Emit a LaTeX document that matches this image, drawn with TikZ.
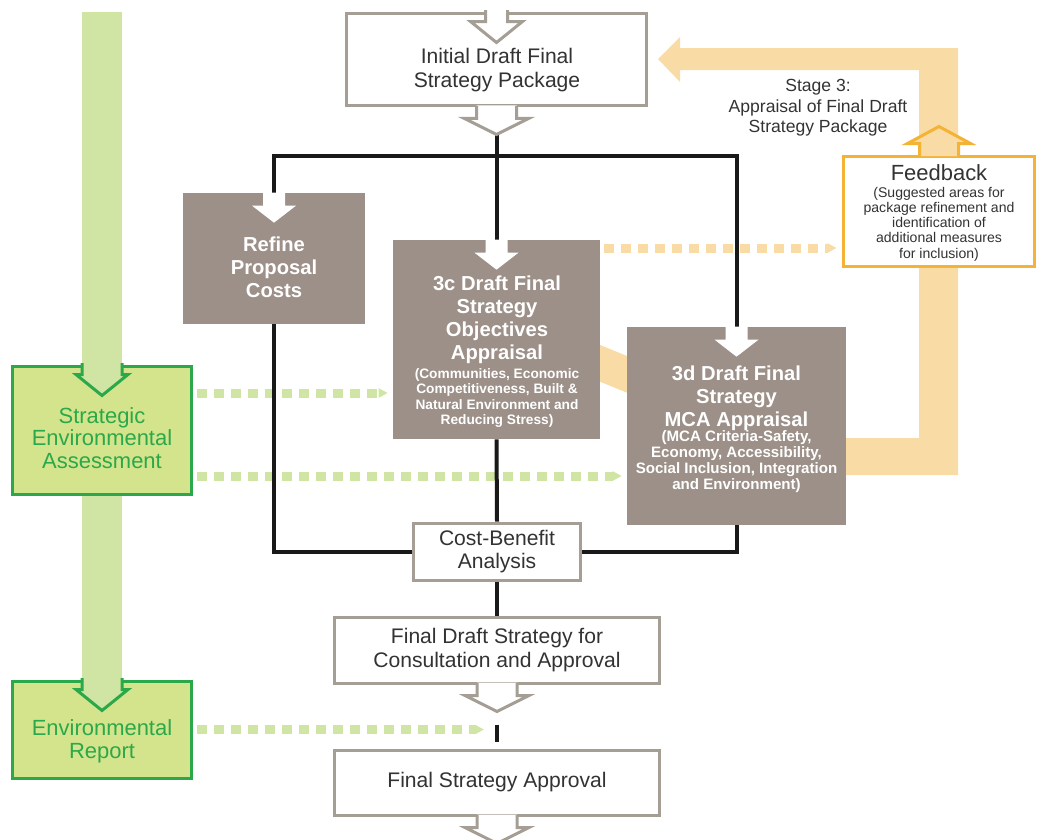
\documentclass[tikz,border=0pt]{standalone}
\usepackage{fontspec}
\setmainfont{Liberation Sans}
\usetikzlibrary{calc,arrows.meta}

\definecolor{boxbrown}{HTML}{9C9088}
\definecolor{edgegrey}{HTML}{A59E94}
\definecolor{inkgrey}{HTML}{333333}
\definecolor{bandgreen}{HTML}{D0E5A3}
\definecolor{seafill}{HTML}{D4E48C}
\definecolor{seagreen}{HTML}{2BA84A}
\definecolor{bandorange}{HTML}{F9DBA5}
\definecolor{fbedge}{HTML}{F5B335}

\def\inarrow(#1){\fill[white] (#1) ++(-11,0) -- ++(0,13) -- ++(-11,0) -- ++(22,17) -- ++(22,-17) -- ++(-11,0) -- ++(0,-13) -- cycle;}
\def\outarrow(#1){\fill[white] (#1) ++(-20,-2) -- ++(0,13) -- ++(-12,0) -- ++(32,16) -- ++(32,-16) -- ++(-12,0) -- ++(0,-13) -- cycle;
	\draw[edgegrey, line width=0.06cm] (#1) ++(-20,-1.5) -- ++(0,12.5) -- ++(-12,0) -- ++(32,16) -- ++(32,-16) -- ++(-12,0) -- ++(0,-12.5);}
\def\notch[#1][#2](#3)#4{\fill[#2] (#3) ++(-#4,-2) -- ++(0,12) -- ++({#4-26},0) -- ++(26,21) -- ++(26,-21) -- ++({#4-26},0) -- ++(0,-12) -- cycle;
	\draw[#1, line width=0.06cm] (#3) ++(-#4,-1.5) -- ++(0,11.5) -- ++({#4-26},0) -- ++(26,21) -- ++(26,-21) -- ++({#4-26},0) -- ++(0,-11.5);}

\begin{document}
\begin{tikzpicture}[x=0.02cm, y=-0.02cm,
		whitebox/.style={draw=edgegrey, line width=0.06cm, fill=white},
		brownbox/.style={fill=boxbrown},
		greenbox/.style={draw=seagreen, line width=0.06cm, fill=seafill},
		plaintxt/.style={text=inkgrey, align=center, font=\fontsize{12}{13.4}\selectfont},
		boldtxt/.style={text=white, align=center, font=\fontsize{11.5}{13}\selectfont\bfseries},
		finetxt/.style={text=white, align=center, font=\fontsize{7.8}{8.7}\selectfont\bfseries},
		greentxt/.style={text=seagreen, align=center, font=\fontsize{12.5}{13}\selectfont},
		blackline/.style={line width=0.08cm, black!90},
		greendash/.style={draw=bandgreen, line width=0.18cm, dash pattern=on 0.2cm off 0.14cm, shorten <=0.08cm, shorten >=0.1cm, -{Triangle[length=0.18cm,width=0.18cm]}},
		orangedash/.style={greendash, draw=bandorange}]
		%%%%% START %%%%%
		\useasboundingbox (0,0) rectangle (1048,839);
		
		\fill[bandgreen] (82,12) rectangle (122,700);
		\fill[bandorange] (658,59) -- (680,37) -- (680,48) -- (958,48) -- (958,475) -- (830,475) -- (830,438) -- (919,438) -- (919,70) -- (680,70) -- (680,82) -- cycle;
		\draw[bandorange, line width=0.68cm] (560,347) -- (680,396);
		
		\node[whitebox, minimum width=6.02cm, minimum height=1.86cm] (init) at (496.5,59.5) {};
		\node[plaintxt] (init-t) at (497,70) {Initial Draft Final\\Strategy Package};
		\node[plaintxt, font=\fontsize{10}{11.6}\selectfont] (stage) at (818,108) {Stage 3:\\Appraisal of Final Draft\\Strategy Package};
		
		\node[brownbox, minimum width=3.64cm, minimum height=2.62cm] (refine) at (274,258.5) {};
		\node[boldtxt] (refine-t) at (274,267) {Refine\\Proposal\\Costs};
		\node[brownbox, minimum width=4.14cm, minimum height=3.98cm] (dobj) at (496.5,339.5) {};
		\node[boldtxt] (dobj-t) at (497,320) {3c Draft Final\\Strategy\\Objectives\\Appraisal};
		\node[finetxt] (dobj-s) at (497,398) {(Communities, Economic\\Competitiveness, Built \&\\Natural Environment and\\Reducing Stress)};
		\node[brownbox, minimum width=4.38cm, minimum height=3.96cm] (dmca) at (736.5,426) {};
		\node[boldtxt] (dmca-t) at (736.5,398) {3d Draft Final\\Strategy\\MCA Appraisal};
		\node[finetxt, font=\fontsize{8.6}{9.1}\selectfont\bfseries] (dmca-s) at (736.5,462) {(MCA Criteria-Safety,\\Economy, Accessibility,\\Social Inclusion, Integration\\and Environment)};
		
		\node[whitebox, draw=fbedge, minimum width=3.84cm, minimum height=2.22cm] (feedback) at (939,211.5) {};
		\node[plaintxt, font=\fontsize{12.5}{14}\selectfont] (feedback-t) at (939,173) {Feedback};
		\node[plaintxt, font=\fontsize{8}{8.7}\selectfont] (feedback-s) at (939,224) {(Suggested areas for\\package refinement and\\identification of\\additional measures\\for inclusion)};
		
		\node[whitebox, plaintxt, minimum width=3.36cm, minimum height=1.14cm] (cba) at (497,551.5) {Cost-Benefit\\Analysis};
		\node[whitebox, plaintxt, minimum width=6.5cm, minimum height=1.32cm] (fdraft) at (497,650) {Final Draft Strategy for\\Consultation and Approval};
		\node[whitebox, plaintxt, minimum width=6.5cm, minimum height=1.3cm] (fsa) at (497,782.5) {Final Strategy Approval};
		
		\node[greenbox, minimum width=3.6cm, minimum height=2.58cm] (sea) at (102,430.5) {};
		\node[greentxt] (sea-t) at (102,438) {Strategic\\Environmental\\Assessment};
		\node[greenbox, minimum width=3.6cm, minimum height=1.94cm] (envrep) at (102,729.5) {};
		\node[greentxt] (envrep-t) at (102,741) {Environmental\\Report};
		
		\coordinate (erend) at (489,729.5);
		\draw[greendash] (sea.east |- 0,393) -- (dobj.west |- 0,393);
		\draw[greendash] (sea.east |- 0,476) -- (dmca.west |- 0,476);
		\draw[greendash] (envrep.east) -- (erend);
		\draw[orangedash] (dobj.east |- 0,248) -- (feedback.west |- 0,248);
		
		\coordinate (inittip) at ($(init.south)+(0,27)$);
		\coordinate (split) at ($(init.south)+(0,49)$);
		\coordinate (gaptop) at ($(fdraft.south)+(0,40)$);
		\coordinate (gapbot) at ($(fsa.north)+(0,-7)$);
		\draw[blackline] (inittip) -- (dobj.north);
		\draw[blackline] (refine.north) |- (split) -| (dmca.north);
		\draw[blackline] (refine.south) |- (cba.west);
		\draw[blackline] (dmca.south) |- (cba.east);
		\draw[blackline] (dobj.south) -- (cba.north);
		\draw[blackline] (cba.south) -- (fdraft.north);
		\draw[blackline] (gaptop) -- (gapbot);
		
		\notch[edgegrey][white](init.north){11}
		\outarrow(init.south)
		\outarrow(fdraft.south)
		\outarrow(fsa.south)
		\notch[seagreen][bandgreen](sea.north){20}
		\notch[seagreen][bandgreen](envrep.north){20}
		\inarrow(refine.north)
		\inarrow(dobj.north)
		\inarrow(dmca.north)
		
		\fill[bandorange] (feedback.north) ++(-19.5,1.5) -- ++(0,-12.5) -- ++(-12,0) -- ++(31.5,-17) -- ++(31.5,17) -- ++(-12,0) -- ++(0,12.5) -- cycle;
		\draw[fbedge, line width=0.06cm] (feedback.north) ++(-19.5,1.5) -- ++(0,-12.5) -- ++(-12,0) -- ++(31.5,-17) -- ++(31.5,17) -- ++(-12,0) -- ++(0,12.5);
		
		%%%%% END %%%%%
\end{tikzpicture}
\end{document}
